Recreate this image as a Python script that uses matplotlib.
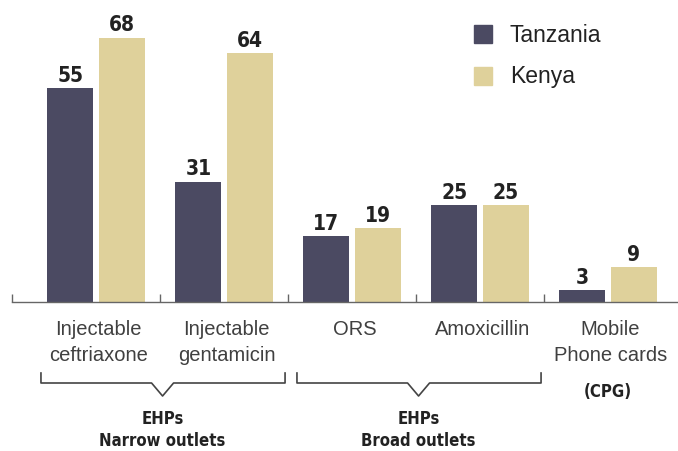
import matplotlib
matplotlib.use("Agg")
import matplotlib.pyplot as plt
from matplotlib.lines import Line2D
from matplotlib.patches import Rectangle
import numpy as np

categories = ["Injectable\nceftriaxone", "Injectable\ngentamicin", "ORS", "Amoxicillin", "Mobile\nPhone cards"]
tanzania = [55, 31, 17, 25, 3]
kenya = [68, 64, 19, 25, 9]
series_names = ["Tanzania", "Kenya"]
groups = [("EHPs\nNarrow outlets", 0, 1), ("EHPs\nBroad outlets", 2, 3)]
cpg_label = "(CPG)"

C_TZ = "#4b4a62"
C_KE = "#dfd19b"
W, H = 678, 452

fig = plt.figure(figsize=(W/100, H/100), dpi=100)
# axes: x from 12 to 678 px, y from 0 to 303 px (from top)
ax = fig.add_axes([12/W, 1 - 303/H, (W-12)/W, 303/H])
x = np.arange(len(categories))
bw = 0.36
ax.bar(x - 0.2, tanzania, bw, color=C_TZ, zorder=2)
ax.bar(x + 0.2, kenya, bw, color=C_KE, zorder=2)

xl = (12 - 96) / 128
xr = (678 - 96) / 128
ax.set_xlim(xl, xr)
ax.set_ylim(0, 78)
for s in ["top", "right", "left"]:
    ax.spines[s].set_visible(False)
ax.spines["bottom"].set_color("#666666")
ax.spines["bottom"].set_linewidth(1.0)
ax.set_yticks([])
ax.set_xticks([xl + 0.001, 0.5, 1.5, 2.5, 3.5])
ax.set_xticklabels([])
ax.tick_params(axis="x", direction="in", length=6, width=1.0, color="#666666")

val_font = dict(fontsize=15, fontweight="bold", family="DejaVu Sans",
                fontstretch="condensed", color="#222222")
for xi, t, k in zip(x, tanzania, kenya):
    ax.annotate(str(t), (xi - 0.2, t), xytext=(0, 5.3), textcoords="offset points",
                ha="center", va="baseline", **val_font)
    ax.annotate(str(k), (xi + 0.2, k), xytext=(0, 5.3), textcoords="offset points",
                ha="center", va="baseline", **val_font)

tr = ax.get_xaxis_transform()
def ay(py):
    return (303 - py) / 303

font_lbl = dict(family="Liberation Sans", fontsize=14.5, color="#404040")
for xi, lab in zip(x, categories):
    ax.text(xi + 0.02, ay(320), lab, transform=tr, ha="center", va="top",
            linespacing=1.45, **font_lbl)

ax.text(4.0, ay(392), cpg_label, transform=tr, ha="center", va="center",
        fontsize=12, fontweight="bold", family="DejaVu Sans", fontstretch="condensed",
        color="#222222")

for lab, a, b in groups:
    left = a - 0.43
    right = b + 0.477
    mid = (a + b) / 2 + 0.02
    half = 11 / 128
    xs = [left, left, mid - half, mid, mid + half, right, right]
    ys = [ay(374), ay(384), ay(384), ay(397), ay(384), ay(384), ay(374)]
    ax.add_line(Line2D(xs, ys, transform=tr, color="#444444", lw=1.2, clip_on=False))
    ax.text(mid, ay(430), lab, transform=tr, ha="center", va="center",
            fontsize=12, fontweight="bold", family="DejaVu Sans", fontstretch="condensed",
            color="#222222", linespacing=1.25)

# legend
for i, (name, col) in enumerate(zip(series_names, [C_TZ, C_KE])):
    yc = 35 + i * 42
    fig.patches.append(Rectangle((474/W, 1 - (yc + 9)/H), 18/W, 18/H,
                                 transform=fig.transFigure, color=col))
    fig.text(510/W, 1 - yc/H, name, ha="left", va="center", fontsize=16.5,
             family="Liberation Sans", color="#222222")

fig.savefig("out.png", dpi=100)
